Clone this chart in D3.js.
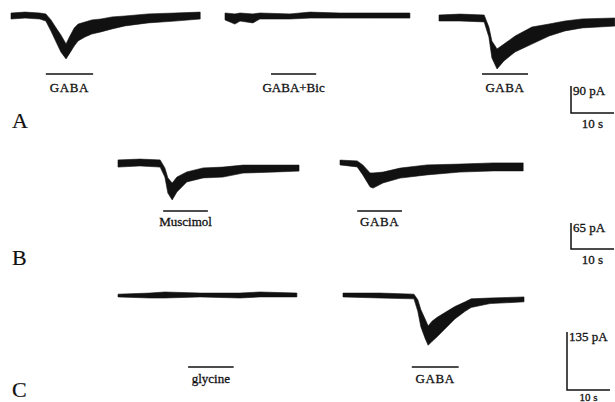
<!DOCTYPE html>
<html>
<head>
<meta charset="utf-8">
<script src="https://cdn.jsdelivr.net/npm/d3@7"></script>
<style>
  body { margin: 0; background: #fff; }
  svg { display: block; }
  text { font-family: "Liberation Serif", "DejaVu Serif", serif; fill: #111; stroke: #111; stroke-width: 0.3px; }
</style>
</head>
<body>
<svg width="615" height="402"></svg>
<script>
// traces: [time (s), upper edge (pA), lower edge (pA)]
const a1Trace = [[0,10,-10],[3.3,13,-7],[6.7,10,-10],[8.1,7,-17],[9.3,-13,-50],[10.5,-40,-87],[11.6,-63,-120],[12.8,-93,-143],[13.7,-67,-123],[14.7,-40,-100],[15.6,-27,-83],[17.2,-20,-70],[18.8,-13,-60],[20.9,-10,-53],[23.5,-3,-43],[26.5,0,-33],[31.9,7,-23],[38.1,10,-17],[44,13,-10]];
const a2Trace = [[0,10,-13],[2.3,7,-27],[3.5,10,-17],[6.5,7,-23],[8.1,10,-10],[15.1,7,-10],[19.8,13,-7],[26.7,10,-7],[33.7,10,-7],[43,10,-7]];
const a3Trace = [[0,10,-10],[4.9,13,-10],[10.5,10,-13],[11.6,-30,-63],[12.3,-77,-133],[13.5,-103,-170],[15.1,-87,-143],[17.7,-60,-113],[21.6,-30,-87],[25.6,-20,-60],[29.3,-10,-43],[33.3,-3,-33],[40.9,0,-27]];
const b1Trace = [[0,9,-9],[5.1,11,-6],[9.8,9,-9],[10.9,-11,-34],[11.6,-36,-74],[12.6,-49,-91],[13.7,-34,-71],[16,-21,-46],[19.8,-11,-36],[24.4,-9,-34],[29.1,-4,-24],[37,-4,-21],[42.1,-4,-19]];
const b2Trace = [[0,6,-6],[4,4,-11],[5.3,-6,-31],[7,-26,-61],[7.7,-26,-64],[10,-24,-51],[14,-14,-39],[20.2,-6,-31],[27.9,-4,-24],[35.6,-1,-21],[42.6,-1,-21]];
const c1Trace = [[0,2,-4.5],[7.4,4.5,-7],[10.9,7,-7],[19.1,4.5,-4.5],[28.4,4.5,-7],[33,7,-4.5],[41.6,4.5,-4.5]];
const c2Trace = [[0,4.5,-4.5],[8.6,4.5,-7],[16.5,2,-9],[17.4,-11,-38],[18.1,-34,-74],[19.1,-56,-101],[19.8,-72,-117],[20.7,-61,-108],[21.9,-52,-97],[23.7,-41,-79],[26,-27,-56],[28.4,-16,-38],[29.8,-9,-29],[34.2,-7,-20],[42.1,-4.5,-16]];

// drug application periods [start, end] in s from trace start
const a1Bar = [8.1, 19.1], a2Bar = [10.7, 21.2], a3Bar = [10, 20.7];
const b1Bar = [10.5, 20.9], b2Bar = [4, 14.4];
const c1Bar = [16.3, 26.9], c2Bar = [16.0, 26.9];

const a1Label = 'GABA', a2Label = 'GABA+Bic', a3Label = 'GABA';
const b1Label = 'Muscimol', b2Label = 'GABA';
const c1Label = 'glycine', c2Label = 'GABA';

const panelLetters = ['A', 'B', 'C'];
const scaleCurrent = [90, 65, 135]; // pA
const scaleTime = 10;               // s

const svg = d3.select('svg');
const PX_PER_S = 4.3;

// layout of each row
const rows = [
  { pxPerPA: 27 / 90, barY: 74, labelY: 92, letterY: 128, sbX: 571, sbY: 86, timeDy: 15,
    traces: [
      { data: a1Trace, bar: a1Bar, label: a1Label, x0: 11, y0: 16 },
      { data: a2Trace, bar: a2Bar, label: a2Label, x0: 225, y0: 16 },
      { data: a3Trace, bar: a3Bar, label: a3Label, x0: 439, y0: 18 }
    ] },
  { pxPerPA: 26 / 65, barY: 211, labelY: 226, letterY: 265, sbX: 571, sbY: 223, timeDy: 15,
    traces: [
      { data: b1Trace, bar: b1Bar, label: b1Label, x0: 118, y0: 163.5 },
      { data: b2Trace, bar: b2Bar, label: b2Label, x0: 340, y0: 162.5 }
    ] },
  { pxPerPA: 58 / 135, barY: 367, labelY: 383, letterY: 397, sbX: 567, sbY: 332, timeDy: 10.5,
    traces: [
      { data: c1Trace, bar: c1Bar, label: c1Label, x0: 118, y0: 295 },
      { data: c2Trace, bar: c2Bar, label: c2Label, x0: 343, y0: 295 }
    ] }
];

rows.forEach((row, i) => {
  row.traces.forEach(tr => {
    const x = d3.scaleLinear().domain([0, 1]).range([tr.x0, tr.x0 + PX_PER_S]);
    const y = d3.scaleLinear().domain([0, -1]).range([tr.y0, tr.y0 + row.pxPerPA]);

    const area = d3.area()
      .x(d => x(d[0]))
      .y0(d => y(d[2]))
      .y1(d => y(d[1]));

    svg.append('path')
      .attr('d', area(tr.data))
      .attr('fill', '#111')
      .attr('stroke', '#111')
      .attr('stroke-width', 0.6)
      .attr('stroke-linejoin', 'round');

    svg.append('line')
      .attr('x1', x(tr.bar[0])).attr('x2', x(tr.bar[1]))
      .attr('y1', row.barY).attr('y2', row.barY)
      .attr('stroke', '#111')
      .attr('stroke-width', 1.6);

    svg.append('text')
      .attr('x', x((tr.bar[0] + tr.bar[1]) / 2))
      .attr('y', row.labelY)
      .attr('text-anchor', 'middle')
      .style('font-size', '13px')
      .style('letter-spacing', tr.label === 'GABA' ? '0.6px' : '0')
      .text(tr.label);
  });

  // panel letter
  svg.append('text')
    .attr('x', 12)
    .attr('y', row.letterY)
    .style('font-size', '22px')
    .style('stroke-width', '0.2px')
    .text(panelLetters[i]);

  // scale bar
  const sy = d3.scaleLinear().domain([0, scaleCurrent[i]]).range([0, scaleCurrent[i] * row.pxPerPA]);
  const sx = d3.scaleLinear().domain([0, scaleTime]).range([0, scaleTime * PX_PER_S]);
  const bottom = row.sbY + sy(scaleCurrent[i]);

  svg.append('path')
    .attr('d', `M${row.sbX},${row.sbY}V${bottom}H${row.sbX + sx(scaleTime)}`)
    .attr('fill', 'none')
    .attr('stroke', '#111')
    .attr('stroke-width', 1.5);

  svg.append('text')
    .attr('x', row.sbX + 2)
    .attr('y', row.sbY + 9)
    .style('font-size', '13px')
    .text(`${scaleCurrent[i]} pA`);

  svg.append('text')
    .attr('x', row.sbX + sx(scaleTime) / 2)
    .attr('y', bottom + row.timeDy)
    .attr('text-anchor', 'middle')
    .style('font-size', i === 2 ? '11px' : '13px')
    .text(`${scaleTime} s`);
});
</script>
</body>
</html>
